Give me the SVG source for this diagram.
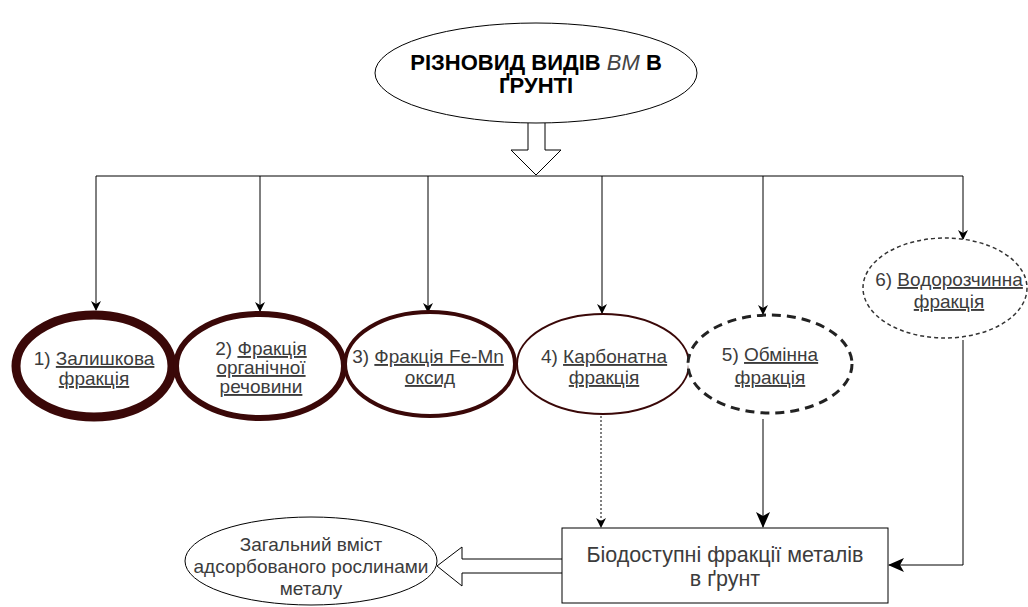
<svg xmlns="http://www.w3.org/2000/svg" width="1028" height="607" viewBox="0 0 1028 607">
<style>
text{font-family:"Liberation Sans",Arial,sans-serif;fill:#3c3c3c;text-anchor:middle}
.t{font-size:19px}
.u{text-decoration:underline}
.ln{fill:none;stroke:#000;stroke-width:1}
.ell{fill:#fff}
</style>
<defs>
<marker id="ah" markerWidth="10" markerHeight="10" refX="9" refY="5" orient="auto" markerUnits="userSpaceOnUse">
<path d="M0,0 L10,5 L0,10 L3,5 Z" fill="#000"/>
</marker>
<marker id="ahb" markerWidth="16" markerHeight="14" refX="15" refY="7" orient="auto" markerUnits="userSpaceOnUse">
<path d="M0,0 L16,7 L0,14 L4,7 Z" fill="#000"/>
</marker>
</defs>
<rect width="1028" height="607" fill="#fff"/>

<g id="connectors">
<path d="M528,123 V150 H511 L536,175 L561,150 H545 V123" fill="#fff" stroke="#000" stroke-width="1"/>
<path class="ln" d="M96,176 H963"/>
<path class="ln" d="M96,176 V310" marker-end="url(#ah)"/>
<path class="ln" d="M260,176 V311" marker-end="url(#ah)"/>
<path class="ln" d="M428,176 V312" marker-end="url(#ah)"/>
<path class="ln" d="M602,176 V313" marker-end="url(#ah)"/>
<path class="ln" d="M763,176 V314" marker-end="url(#ah)"/>
<path class="ln" d="M963,176 V239" marker-end="url(#ah)"/>
<path class="ln" d="M601,416 V527" stroke-dasharray="2,2" marker-end="url(#ah)"/>
<path class="ln" d="M763,419 V527" stroke-width="2" marker-end="url(#ahb)"/>
<path class="ln" d="M963,340 V565 H889" stroke-width="3" marker-end="url(#ahb)"/>
<path d="M562,559 H462 V547 L437,566 L462,586 V573 H562" fill="#fff" stroke="#000" stroke-width="1"/>
</g>

<g id="top">
<ellipse cx="536" cy="73" rx="161" ry="50" fill="#fff" stroke="#000" stroke-width="1"/>
<text x="536" y="70" style="font-size:22px;font-weight:bold;fill:#000">РІЗНОВИД ВИДІВ <tspan style="font-style:italic;font-weight:normal;fill:#444">ВМ</tspan> В</text>
<text x="536" y="93" style="font-size:22px;font-weight:bold;fill:#000">ҐРУНТІ</text>
</g>

<g id="n1">
<ellipse class="ell" cx="94" cy="366" rx="78" ry="51" stroke="#3a0808" stroke-width="9"/>
<text class="t" x="94" y="365">1) <tspan class="u">Залишкова</tspan></text>
<text class="t u" x="94" y="385">фракція</text>
</g>
<g id="n2">
<ellipse class="ell" cx="260" cy="366" rx="84" ry="52" stroke="#3a0808" stroke-width="6"/>
<text class="t" x="261" y="355">2) <tspan class="u">Фракція</tspan></text>
<text class="t u" x="261" y="374">органічної</text>
<text class="t u" x="261" y="393">речовини</text>
</g>
<g id="n3">
<ellipse class="ell" cx="430" cy="364" rx="85" ry="52" stroke="#3a0808" stroke-width="4"/>
<text class="t" x="428" y="363">3) <tspan class="u">Фракція Fe-Mn</tspan></text>
<text class="t u" x="430" y="384">оксид</text>
</g>
<g id="n4">
<ellipse class="ell" cx="603" cy="364" rx="86" ry="50" stroke="#3a0808" stroke-width="2"/>
<text class="t" x="604" y="363">4) <tspan class="u">Карбонатна</tspan></text>
<text class="t u" x="604" y="384">фракція</text>
</g>
<g id="n5">
<ellipse class="ell" cx="770" cy="364" rx="82" ry="49" stroke="#222" stroke-width="3" stroke-dasharray="9,6"/>
<text class="t" x="770" y="361">5) <tspan class="u">Обмінна</tspan></text>
<text class="t u" x="770" y="384">фракція</text>
</g>
<g id="n6">
<ellipse class="ell" cx="945" cy="288" rx="82" ry="50" stroke="#333" stroke-width="1.5" stroke-dasharray="4,3"/>
<text class="t" x="949" y="286">6) <tspan class="u">Водорозчинна</tspan></text>
<text class="t u" x="949" y="308">фракція</text>
</g>
<g id="bio">
<rect x="562" y="528" width="326" height="75" fill="#fff" stroke="#000" stroke-width="1"/>
<text x="725" y="562" style="font-size:21.5px">Біодоступні фракції металів</text>
<text x="725" y="586" style="font-size:21.5px">в ґрунт</text>
</g>
<g id="total">
<ellipse cx="311" cy="561" rx="126" ry="44" fill="#fff" stroke="#000" stroke-width="1"/>
<text class="t" x="311" y="551">Загальний вміст</text>
<text class="t" x="311" y="573">адсорбованого рослинами</text>
<text class="t" x="311" y="595">металу</text>
</g>
</svg>
